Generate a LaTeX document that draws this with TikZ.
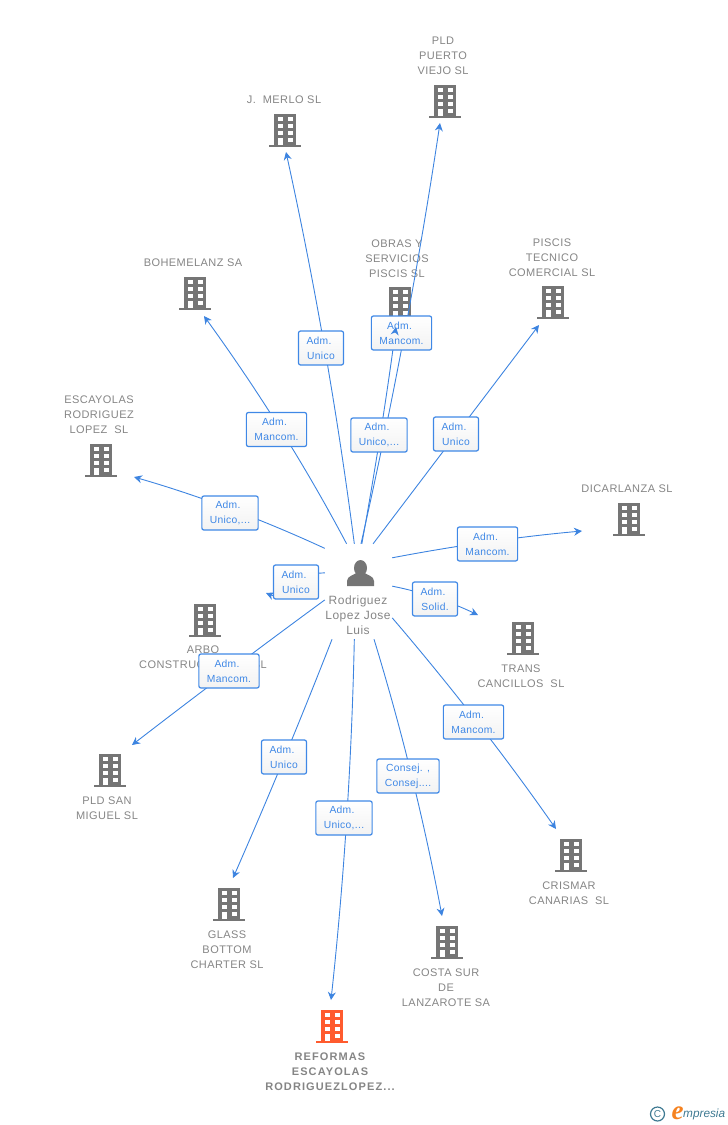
\documentclass[tikz,border=0pt]{standalone}
\usepackage{fontspec}
\setmainfont{Liberation Sans}
\newfontfamily\compfont[LetterSpace=4]{Liberation Sans}
\newfontfamily\headfont[LetterSpace=10]{Liberation Sans}
\newfontfamily\tagfont[LetterSpace=3]{Liberation Sans}
\newfontfamily\logofont{Liberation Serif}
\usetikzlibrary{arrows.meta,calc}
\definecolor{linkblue}{HTML}{3D84E0}
\definecolor{tagblue}{HTML}{3F88E6}
\definecolor{bldgray}{HTML}{757575}
\definecolor{txtgray}{HTML}{858585}
\definecolor{bldred}{HTML}{FF5B2E}
\definecolor{logoteal}{HTML}{3F7A92}
\definecolor{logoorange}{HTML}{F58220}
\newcommand{\adm}{Adm.\kern4pt}
\newcommand{\qlink}[3]{\draw[link] (#1) .. controls ($(#1)!0.667!(#2)$) and ($(#3)!0.667!(#2)$) .. (#3);}
\tikzset{
    building/.pic={
        \fill[pic actions] (-11,0) rectangle (11,-33);
        \fill[pic actions] (-16,0) rectangle (16,-2);
        \fill[white] (-7,-26) rectangle (-2,-30);
        \fill[white] (3,-26) rectangle (8,-30);
        \fill[white] (-7,-19) rectangle (-2,-23);
        \fill[white] (3,-19) rectangle (8,-23);
        \fill[white] (-7,-12) rectangle (-2,-16);
        \fill[white] (3,-12) rectangle (8,-16);
        \fill[white] (-7,-2) rectangle (-2,-9);
        \fill[white] (3,-5) rectangle (8,-9);
    },
    company/.style={text=txtgray,align=center,inner sep=0pt,yshift=-0.5pt,font=\compfont\fontsize{11}{15}\selectfont},
    tag/.style={draw=tagblue,line width=1.2pt,rounded corners=2pt,top color=white,bottom color=black!5,
        text=tagblue,align=center,inner xsep=8pt,inner ysep=0pt,minimum height=34pt,
        font=\tagfont\fontsize{10.3}{15}\selectfont},
    link/.style={draw=linkblue,line width=0.9pt,-{Stealth[length=8pt,width=8pt]}},
}
\begin{document}
\begin{tikzpicture}[x=1pt,y=-1pt]
        \useasboundingbox (0,0) rectangle (728,1125);

        % buildings
        \pic[fill=bldgray] (bmerlo) at (285,147) {building};
        \pic[fill=bldgray] (bpuerto) at (445,118) {building};
        \pic[fill=bldgray] (bbohem) at (195,310) {building};
        \pic[fill=bldgray] (bobras) at (400,320) {building};
        \pic[fill=bldgray] (bpiscis) at (553,319) {building};
        \pic[fill=bldgray] (bescay) at (101,477) {building};
        \pic[fill=bldgray] (bdicar) at (629,536) {building};
        \pic[fill=bldgray] (btrans) at (523,655) {building};
        \pic[fill=bldgray] (barbo) at (205,637) {building};
        \pic[fill=bldgray] (bmiguel) at (110,787) {building};
        \pic[fill=bldgray] (bglass) at (229,921) {building};
        \pic[fill=bldgray] (bcrismar) at (571,872) {building};
        \pic[fill=bldgray] (bcosta) at (447,959) {building};
        \pic[fill=bldred] (breformas) at (332,1043) {building};

        \node[company] (merlo) at (284,99) {J.\ \ MERLO SL};
        \node[company] (puerto) at (443,55.5) {PLD\\PUERTO\\VIEJO SL};
        \node[company] (bohem) at (193,262) {BOHEMELANZ SA};
        \node[company] (obras) at (397,258) {OBRAS Y\\SERVICIOS\\PISCIS SL};
        \node[company] (piscis) at (552,257) {PISCIS\\TECNICO\\COMERCIAL SL};
        \node[company] (escay) at (99,414) {ESCAYOLAS\\RODRIGUEZ\\LOPEZ\ \ SL};
        \node[company] (dicar) at (627,488) {DICARLANZA SL};
        \node[company] (trans) at (521,675.5) {TRANS\\CANCILLOS\ \ SL};
        \node[company] (arbo) at (203,656.5) {ARBO\\CONSTRUCCIONES SL};
        \node[company] (miguel) at (107,807.5) {PLD SAN\\MIGUEL SL};
        \node[company] (glass) at (227,949) {GLASS\\BOTTOM\\CHARTER SL};
        \node[company] (crismar) at (569,892.5) {CRISMAR\\CANARIAS\ \ SL};
        \node[company] (costa) at (446,987) {COSTA SUR\\DE\\LANZAROTE SA};
        \node[company,font=\headfont\bfseries\fontsize{11}{15}\selectfont] (reformas) at (330,1071) {REFORMAS\\ESCAYOLAS\\RODRIGUEZLOPEZ...};

        % person in the middle
        \node[minimum width=67pt,minimum height=95pt,inner sep=0pt] (rodriguez) at (358.5,591.5) {};
        \fill[bldgray] (360.5,568) ellipse (6.5 and 8);
        \fill[bldgray] (347,586) -- (347,581) .. controls (347,576) and (354,575) .. (358,572) -- (363,572) .. controls (367,575) and (374,576) .. (374,581) -- (374,586) -- cycle;
        \node[company,font=\compfont\fontsize{12}{15}\selectfont] (rodname) at (358,615) {Rodriguez\\Lopez Jose\\Luis};

        % free ends near the buildings
        \coordinate (emerlo) at (286,152);
        \coordinate (epuerto) at (440,123);
        \coordinate (eobras) at (396,327);
        \coordinate (episcis) at (539,325);
        \coordinate (ebohem) at (204,316);
        \coordinate (eescay) at (134,477);
        \coordinate (edicar) at (582,531);
        \coordinate (etrans) at (478,615);
        \coordinate (earbo) at (266,593);
        \coordinate (emiguel) at (132,745);
        \coordinate (eglass) at (233,878);
        \coordinate (ereformas) at (331,1000);
        \coordinate (ecosta) at (442,916);
        \coordinate (ecrismar) at (556,829);

        \qlink{rodriguez.95}{329,348}{emerlo}
        \qlink{rodriguez.87}{408.5,333}{epuerto}
        \qlink{rodriguez.86}{381.5,435}{eobras}
        \draw[link] (rodriguez.73) -- (episcis);
        \qlink{rodriguez.104}{286.5,430}{ebohem}
        \qlink{rodriguez.128}{231,505}{eescay}
        \qlink{rodriguez.45}{488,539.5}{edicar}
        \qlink{rodriguez.9}{435,594.5}{etrans}
        \draw[link] (rodriguez.151) .. controls (295,573) and (285,601) .. (earbo);
        \qlink{rodriguez.194}{230.5,669}{emiguel}
        \qlink{rodriguez.241}{286.5,756}{eglass}
        \qlink{rodriguez.265}{350.5,820}{ereformas}
        \qlink{rodriguez.288}{415.5,775}{ecosta}
        \qlink{rodriguez.322}{480.5,721}{ecrismar}

        \node[tag] (tmerlo) at (321,348) {\adm\\Unico};
        \node[tag] (tpuerto) at (401.5,333) {\adm\\Mancom.};
        \node[tag] (tobras) at (379,435) {\adm\\Unico,...};
        \node[tag] (tpiscis) at (456,434) {\adm\\Unico};
        \node[tag] (tbohem) at (276.5,429.5) {\adm\\Mancom.};
        \node[tag] (tescay) at (230,513) {\adm\\Unico,...};
        \node[tag] (tdicar) at (487.5,544) {\adm\\Mancom.};
        \node[tag] (ttrans) at (435,599) {\adm\\Solid.};
        \node[tag] (tarbo) at (296,582) {\adm\\Unico};
        \node[tag] (tmiguel) at (229,671) {\adm\\Mancom.};
        \node[tag] (tglass) at (284,757) {\adm\\Unico};
        \node[tag] (treformas) at (344,818) {\adm\\Unico,...};
        \node[tag] (tcosta) at (408,776) {Consej. ,\\Consej....};
        \node[tag] (tcrismar) at (473.5,722) {\adm\\Mancom.};

        % this head lies on top of its tag
        \draw[link] ($(eobras)+(-1,6)$) -- (eobras);

        % logo
        \node[circle,draw=logoteal,line width=1.2pt,text=logoteal,inner sep=0pt,minimum size=14pt,font=\fontsize{10}{10}\selectfont] (copyr) at (657.5,1114) {C};
        \node[text=logoorange,inner sep=0pt,font=\logofont\fontsize{27}{27}\selectfont\itshape\bfseries] (logoe) at (677.5,1113) {e};
        \node[text=logoteal,inner sep=0pt,anchor=west,font=\fontsize{11.8}{12}\selectfont\itshape] (logotext) at (683,1114.5) {mpresia};
\end{tikzpicture}
\end{document}
